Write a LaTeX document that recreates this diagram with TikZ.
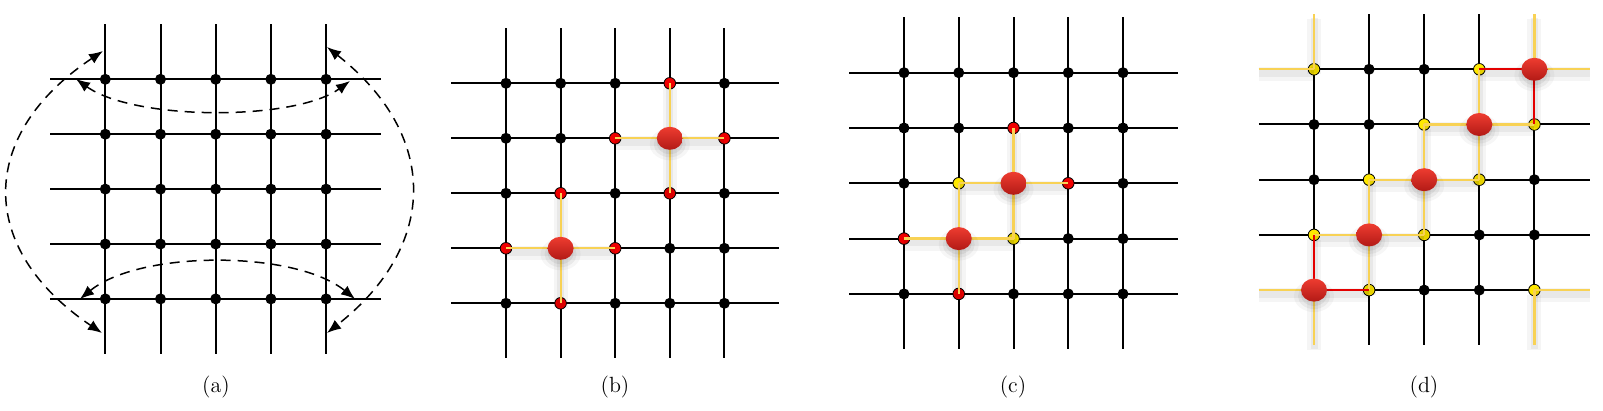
\documentclass[tikz,border=0pt]{standalone}
\usetikzlibrary{arrows.meta,shapes.geometric}
\definecolor{yline}{RGB}{248,210,85}
\definecolor{ydotc}{RGB}{255,232,0}
\definecolor{rdotc}{RGB}{240,0,0}
\definecolor{rlinec}{RGB}{228,0,0}
\definecolor{bigtop}{RGB}{238,60,48}
\definecolor{bigbot}{RGB}{178,26,22}
\tikzset{
  gridline/.style={black,line width=1pt},
  ylinestyle/.style={yline,line width=1.1pt},
  rlinestyle/.style={rlinec,line width=1pt},
  shadowA/.style={black,opacity=0.04,line width=7pt,transform canvas={yshift=-2.5pt}},
  shadowB/.style={black,opacity=0.055,line width=3.5pt,transform canvas={yshift=-2pt}},
  bdot/.style={circle,fill=black,inner sep=0pt,minimum size=5.5pt},
  rdot/.style={circle,fill=rdotc,draw=black,line width=0.4pt,inner sep=0pt,minimum size=5.8pt},
  ydot/.style={circle,fill=ydotc,draw=black,line width=0.4pt,inner sep=0pt,minimum size=5.8pt},
  bigdot/.style={ellipse,inner sep=0pt,minimum width=13pt,minimum height=11.5pt,top color=bigtop,bottom color=bigbot,draw=none},
  bigshad/.style={ellipse,inner sep=0pt,fill=black,draw=none},
  dasharrow/.style={black,line width=0.75pt,dash pattern=on 5pt off 3.5pt,{Latex[length=7pt,width=5.5pt]}-{Latex[length=7pt,width=5.5pt]}},
  lab/.style={font=\fontsize{11}{13}\selectfont,inner sep=0pt}
}
\newcommand\mkgrid[5]{%
  \foreach \i in {0,...,4}{%
    \foreach \j in {0,...,4}{\coordinate (#1\i\j) at ({#2+\i*#4},{#3+\j*#5});}
    \coordinate (#1T\i) at ({#2+\i*#4},{#3-#5});
    \coordinate (#1B\i) at ({#2+\i*#4},{#3+5*#5});
    \coordinate (#1L\i) at ({#2-#4},{#3+\i*#5});
    \coordinate (#1R\i) at ({#2+5*#4},{#3+\i*#5});
  }
  \foreach \i in {0,...,4}{\draw[gridline] (#1L\i) -- (#1R\i); \draw[gridline] (#1T\i) -- (#1B\i);}
}
\newcommand\mybig[2]{%
  \node[bigshad,minimum width=20pt,minimum height=16pt,opacity=0.035] at ([yshift=-3pt]#2) {};
  \node[bigshad,minimum width=16pt,minimum height=13pt,opacity=0.05] at ([yshift=-3pt]#2) {};
  \node[bigshad,minimum width=13pt,minimum height=11pt,opacity=0.06] at ([yshift=-2.5pt]#2) {};
  \node[bigdot] (#1) at (#2) {};}
\newcommand\shadlines[1]{%
  \foreach \u/\v in {#1}{\draw[shadowA] (\u) -- (\v); \draw[shadowB] (\u) -- (\v);}}
\begin{document}
\begin{tikzpicture}[x=0.5pt,y=-0.5pt]
\useasboundingbox (0,0) rectangle (1603,411);
% ---------- (a)
\mkgrid{a}{105.3}{79.3}{55.2}{54.9}
\foreach \n in {00,10,20,30,40,01,11,21,31,41,02,12,22,32,42,03,13,23,33,43,04,14,24,34,44}
  \node[bdot] (adot\n) at (a\n) {};
\coordinate (tl) at (76,79); \coordinate (tr) at (350,81);
\coordinate (bl) at (80,299); \coordinate (br) at (355,299);
\coordinate (lt) at (103,51); \coordinate (lb) at (102,333);
\coordinate (rt) at (327,47); \coordinate (rb) at (327,333);
\draw[dasharrow] (tl) .. controls (135,121) and (295,121) .. (tr);
\draw[dasharrow] (bl) .. controls (140,250) and (295,250) .. (br);
\draw[dasharrow] (lt) .. controls (-23,135) and (-23,249) .. (lb);
\draw[dasharrow] (rt) .. controls (439,135) and (439,245) .. (rb);
\node[lab] (la) at (216,387) {(a)};
% ---------- (b)
\mkgrid{b}{506}{83.3}{54.6}{55}
\foreach \n in {00,10,20,40,01,11,02,22,42,33,43,04,24,34,44}
  \node[bdot] (bdot\n) at (b\n) {};
\foreach \n in {30,21,41,32,12,03,23,14}
  \node[rdot] (bdot\n) at (b\n) {};
\shadlines{b31/b30,b31/b21,b31/b41,b31/b32,b13/b12,b13/b03,b13/b23,b13/b14}
\foreach \u/\v in {b31/b30,b31/b21,b31/b41,b31/b32,b13/b12,b13/b03,b13/b23,b13/b14}
  \draw[ylinestyle] (\u) -- (\v);
\mybig{bbig31}{b31}
\mybig{bbig13}{b13}
\node[lab] (lbl) at (615,387) {(b)};
% ---------- (c)
\mkgrid{c}{904}{72.7}{54.75}{55.3}
\foreach \n in {00,10,20,30,40,01,11,31,41,02,42,33,43,04,24,34,44}
  \node[bdot] (cdot\n) at (c\n) {};
\foreach \n in {21,32,03,14}
  \node[rdot] (cdot\n) at (c\n) {};
\foreach \n in {12,23}
  \node[ydot] (cdot\n) at (c\n) {};
\shadlines{c22/c21,c22/c32,c22/c12,c22/c23,c13/c03,c13/c12,c13/c23,c13/c14}
\foreach \u/\v in {c22/c21,c22/c32,c22/c12,c22/c23,c13/c03,c13/c12,c13/c23,c13/c14}
  \draw[ylinestyle] (\u) -- (\v);
\mybig{cbig22}{c22}
\mybig{cbig13}{c13}
\node[lab] (lc) at (1013,387) {(c)};
% ---------- (d)
\mkgrid{d}{1314}{69.3}{55.1}{55.2}
\foreach \n in {10,20,01,11,02,42,33,43,24,34}
  \node[bdot] (ddot\n) at (d\n) {};
\foreach \n in {00,30,21,41,12,32,03,23,14,44}
  \node[ydot] (ddot\n) at (d\n) {};
\shadlines{d31/d30,d31/d21,d31/d41,d31/d32,d22/d21,d22/d12,d22/d32,d22/d23,d13/d03,d13/d12,d13/d23,d13/d14,d40/dT4,d40/dR0,d00/dL0,d00/dT0,d04/dL4,d04/dB0,d44/dR4,d44/dB4,d40/d30,d40/d41,d04/d03,d04/d14}
\foreach \u/\v in {d31/d30,d31/d21,d31/d41,d31/d32,d22/d21,d22/d12,d22/d32,d22/d23,d13/d03,d13/d12,d13/d23,d13/d14,d40/dT4,d40/dR0,d00/dL0,d00/dT0,d04/dL4,d04/dB0,d44/dR4,d44/dB4}
  \draw[ylinestyle] (\u) -- (\v);
\foreach \u/\v in {d40/d30,d40/d41,d04/d03,d04/d14}
  \draw[rlinestyle] (\u) -- (\v);
\mybig{dbig40}{d40}
\mybig{dbig31}{d31}
\mybig{dbig22}{d22}
\mybig{dbig13}{d13}
\mybig{dbig04}{d04}
\node[lab] (ld) at (1424,387) {(d)};
\end{tikzpicture}
\end{document}
